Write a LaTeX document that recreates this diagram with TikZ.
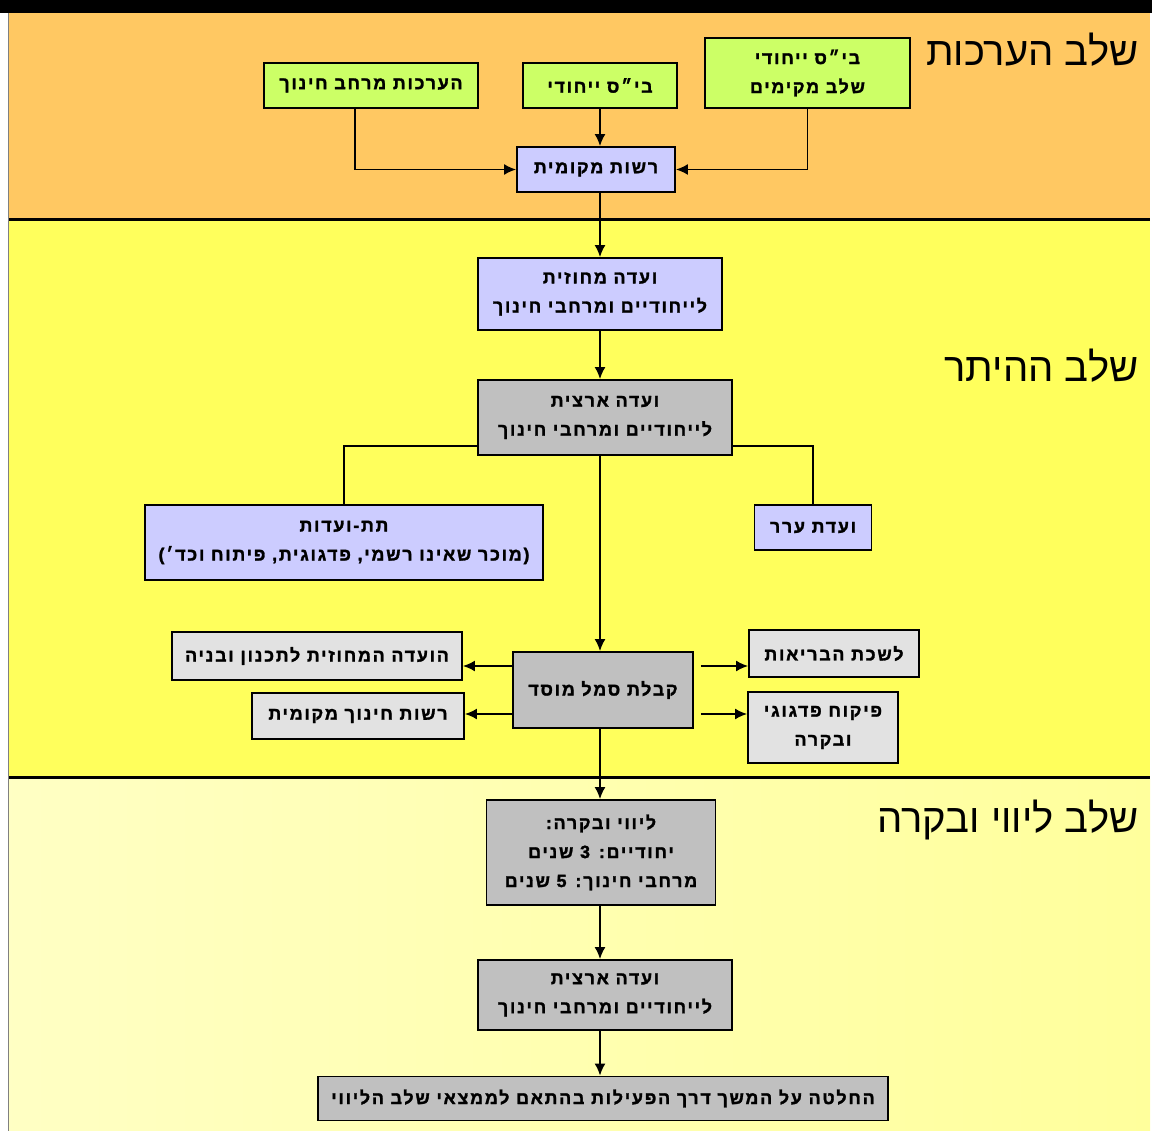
\documentclass[tikz,border=0pt]{standalone}
\usepackage{fontspec}
\usepackage{xcolor}
\usepackage{tikz}
\usetikzlibrary{arrows.meta}

\TeXXeTstate=1
\newfontfamily\hebbox[Script=Hebrew,LetterSpace=10,BoldFeatures={FakeBold=1.6}]{Liberation Sans}
\newfontfamily\hebhead[Script=Hebrew]{Liberation Sans}
\newcommand{\rtl}[1]{\beginR #1\endR}

\definecolor{bandorange}{HTML}{FFC862}
\definecolor{bandyellow}{HTML}{FFFF5C}
\definecolor{bandpale}{HTML}{FFFF9C}
\definecolor{boxgreen}{HTML}{CCFF66}
\definecolor{boxblue}{HTML}{CCCCFF}
\definecolor{boxgrey}{HTML}{C0C0C0}
\definecolor{boxpale}{HTML}{E2E2E2}

\begin{document}
\begin{tikzpicture}[x=1pt,y=-1pt,
	box/.style={draw=black, line width=1.8pt, text=black, align=center, inner sep=2pt,
		font=\hebbox\bfseries\fontsize{17.8}{29}\selectfont},
	greenbox/.style={box, fill=boxgreen},
	bluebox/.style={box, fill=boxblue},
	greybox/.style={box, fill=boxgrey},
	palebox/.style={box, fill=boxpale},
	arr/.style={-{Latex[length=12pt,width=11pt]}, line width=1.8pt},
	link/.style={line width=1.8pt},
	stage/.style={anchor=east, text=black, font=\hebhead\fontsize{40}{44}\selectfont}]

	\useasboundingbox (0,0) rectangle (1152,1131);

	% stages in the background
	\fill[white] (0,0) rectangle (1152,1131);
	\fill[black] (0,0) rectangle (1152,13);
	\fill[bandorange] (9,13) rectangle (1150,218);
	\fill[bandyellow] (9,221) rectangle (1150,776);
	\shade[left color=bandpale!60!white, right color=bandpale] (9,779) rectangle (1150,1131);
	\draw[line width=3pt] (9,219.5) -- (1150,219.5);
	\draw[line width=3pt] (9,777.5) -- (1150,777.5);
	\draw[gray, line width=1pt] (8.5,13) -- (8.5,1131);

	\node[stage] (prep) at (1142,50) {\rtl{שלב הערכות}};
	\node[stage] (permit) at (1142,366) {\rtl{שלב ההיתר}};
	\node[stage] (follow) at (1142,820) {\rtl{שלב ליווי ובקרה}};

	% preparation
	\node[greenbox, minimum width=214pt, minimum height=45pt] (eval) at (371,85.5) {\rtl{הערכות מרחב חינוך}};
	\node[greenbox, minimum width=154pt, minimum height=45pt] (school) at (600,85.5) {\rtl{בי״ס ייחודי}};
	\node[greenbox, minimum width=205pt, minimum height=70pt] (found) at (807.5,73) {\rtl{בי״ס ייחודי}\\\rtl{שלב מקימים}};
	\node[bluebox, minimum width=158pt, minimum height=45pt] (local) at (596,169.5) {\rtl{רשות מקומית}};

	% permit
	\node[bluebox, minimum width=244pt, minimum height=72pt] (dist) at (600,294) {\rtl{ועדה מחוזית}\\\rtl{לייחודיים ומרחבי חינוך}};
	\node[greybox, minimum width=254pt, minimum height=75pt] (nat) at (605,417.5) {\rtl{ועדה ארצית}\\\rtl{לייחודיים ומרחבי חינוך}};
	\node[bluebox, minimum width=398pt, minimum height=75pt] (sub) at (344,542.5) {\rtl{תת-ועדות}\\\rtl{(מוכר שאינו רשמי, פדגוגית, פיתוח וכד׳)}};
	\node[bluebox, minimum width=117pt, minimum height=45pt] (appeal) at (813,527.5) {\rtl{ועדת ערר}};
	\node[greybox, minimum width=180pt, minimum height=76pt] (sym) at (603,690) {\rtl{קבלת סמל מוסד}};
	\node[palebox, minimum width=290pt, minimum height=48pt] (plan) at (317,656) {\rtl{הועדה המחוזית לתכנון ובניה}};
	\node[palebox, minimum width=212pt, minimum height=46pt] (edu) at (358,716) {\rtl{רשות חינוך מקומית}};
	\node[palebox, minimum width=170pt, minimum height=47pt] (health) at (834,653.5) {\rtl{לשכת הבריאות}};
	\node[palebox, minimum width=150pt, minimum height=71pt] (supv) at (823,727.5) {\rtl{פיקוח פדגוגי}\\\rtl{ובקרה}};

	% follow-up
	\node[greybox, minimum width=229pt, minimum height=105pt] (track) at (601,852.5) {\rtl{ליווי ובקרה:}\\\rtl{יחודיים: 3 שנים}\\\rtl{מרחבי חינוך: 5 שנים}};
	\node[greybox, minimum width=254pt, minimum height=70pt] (nat2) at (605,995) {\rtl{ועדה ארצית}\\\rtl{לייחודיים ומרחבי חינוך}};
	\node[greybox, minimum width=570pt, minimum height=44pt] (final) at (603,1098.5) {\rtl{החלטה על המשך דרך הפעילות בהתאם לממצאי שלב הליווי}};

	% connectors
	\draw[arr] ([xshift=-16pt]eval.south) |- (local.west);
	\draw[arr] (found.south) |- (local.east);

	\foreach \a/\b in {school/local, local/dist, dist/nat, nat/sym, sym/track, track/nat2, nat2/final} {
		\draw[arr] (\a.south -| 600,0) -- (\b.north -| 600,0);
	}

	\draw[link] ([yshift=10pt]nat.south west) -| (sub.north);
	\draw[link] ([yshift=10pt]nat.south east) -| (appeal.north);

	\draw[arr] ([yshift=24pt]sym.west) -- ([yshift=24pt]sym.west -| plan.east);
	\draw[arr] ([yshift=-24pt]sym.west) -- ([yshift=-24pt]sym.west -| edu.east);
	\draw[arr] ([xshift=7pt,yshift=24pt]sym.east) -- ([yshift=24pt]sym.east -| health.west);
	\draw[arr] ([xshift=7pt,yshift=-24pt]sym.east) -- ([yshift=-24pt]sym.east -| supv.west);
\end{tikzpicture}
\end{document}
